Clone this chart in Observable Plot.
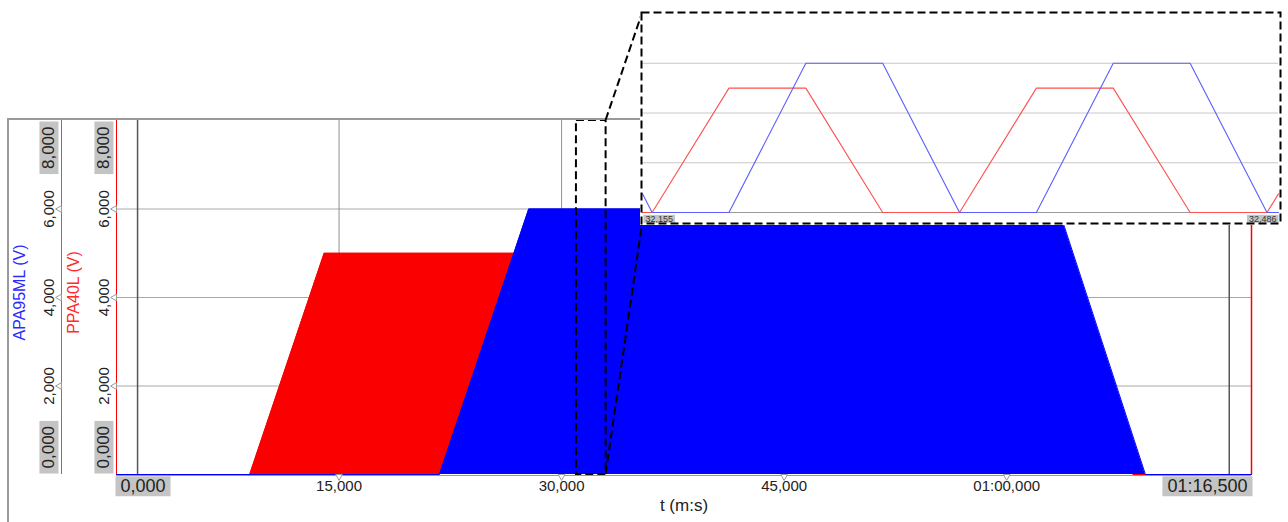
<!DOCTYPE html>
<html><head><meta charset="utf-8">
<script src="https://cdn.jsdelivr.net/npm/d3@7"></script>
<script src="https://cdn.jsdelivr.net/npm/@observablehq/plot@0.6"></script>
<style>
html,body{margin:0;padding:0;background:#fff;}
#chart{position:relative;width:1288px;height:522px;overflow:hidden;}
#chart svg{position:absolute;max-width:none;}
</style></head><body><div id="chart"></div>
<script>
// ---------- data ----------
const xRange = [0, 76.5];                       // seconds
const xRangeLabels = ["0,000", "01:16,500"];
const xTicks = [15, 30, 45, 60];
const xTickLabels = ["15,000", "30,000", "45,000", "01:00,000"];
const yTicks = [0, 2000, 4000, 6000, 8000];
const yTickLabels = ["0,000", "2,000", "4,000", "6,000", "8,000"];
const cursorT = [1.42, 75.0];

// envelope of PPA40L (red) and APA95ML (blue), volts vs seconds
const redT  = [0, 8.98, 14.0, 63.5, 68.5, 76.5];
const redV  = [0, 0, 5000, 5000, 0, 0];
const blueT = [0, 21.77, 27.79, 63.5, 69.35, 76.5];
const blueV = [0, 0, 6000, 6000, 0, 0];

// zoom window and inset detail
const zoomWindow = [31.0, 33.0];
const insetRange = [32.155, 32.486];
const insetRangeLabels = ["32,155", "32,486"];
const insetRedT  = [32.155, 32.160, 32.200, 32.240, 32.280, 32.320, 32.360, 32.400, 32.440, 32.480, 32.486];
const insetRedV  = [0, 0, 5000, 5000, 0, 0, 5000, 5000, 0, 0, 750];
const insetBlueT = [32.155, 32.160, 32.200, 32.240, 32.280, 32.320, 32.360, 32.400, 32.440, 32.480, 32.486];
const insetBlueV = [750, 0, 0, 6000, 6000, 0, 0, 6000, 6000, 0, 0];

const seriesNames = ["APA95ML (V)", "PPA40L (V)"];
const xTitle = "t (m:s)";

// ---------- tables ----------
const zip = (ts, vs) => ts.map((t, i) => ({t, v: vs[i]}));
const red = zip(redT, redV), blue = zip(blueT, blueV);
const insetRed = zip(insetRedT, insetRedV), insetBlue = zip(insetBlueT, insetBlueV);
const yRows = yTicks.map((v, i) => ({v, label: yTickLabels[i]}));
const yInner = yRows.filter(d => d.v > yTicks[0] && d.v < yTicks[yTicks.length - 1]);
const yLow = yRows.filter(d => d.v === yTicks[0]);
const yHigh = yRows.filter(d => d.v === yTicks[yTicks.length - 1]);
const xRows = xTicks.map((t, i) => ({t, label: xTickLabels[i]}));
const xRangeRows = xRange.map((t, i) => ({t, label: xRangeLabels[i]}));
const insetRangeRows = insetRange.map((t, i) => ({t, label: insetRangeLabels[i]}));
const boxedLabels = new Set([yLow[0].label, yHigh[0].label, ...xRangeLabels, ...insetRangeLabels]);

const FONT = "'Liberation Sans', Arial, sans-serif";
const RED = "#fb0000", BLUE = "#0000ff", TXT = "#222";
const axisOffsets = [-55, 0]; // APA95ML axis, PPA40L axis (relative to frame left)

function yLabelMarks(dxAxis) {
  const dx = dxAxis - 12.5;
  return [
    Plot.text(yInner, {y: "v", text: "label", frameAnchor: "left", dx, rotate: -90,
      textAnchor: "middle", lineAnchor: "middle", fontSize: 15, fill: TXT}),
    Plot.text(yLow, {y: "v", text: "label", frameAnchor: "left", dx, dy: -6, rotate: -90,
      textAnchor: "start", lineAnchor: "middle", fontSize: 17, fill: TXT}),
    Plot.text(yHigh, {y: "v", text: "label", frameAnchor: "left", dx, dy: 6, rotate: -90,
      textAnchor: "end", lineAnchor: "middle", fontSize: 17, fill: TXT}),
    Plot.dot(yInner, {y: "v", frameAnchor: "left", dx: dxAxis - 2, symbol: "triangle", rotate: -90,
      r: 2.5, fill: "white", stroke: "#999", strokeWidth: 1})
  ];
}

const main = Plot.plot({
  width: 1288, height: 522,
  marginLeft: 116, marginRight: 37, marginTop: 120, marginBottom: 48,
  x: {domain: xRange, axis: null},
  y: {domain: [yTicks[0], yTicks[yTicks.length - 1]], axis: null},
  style: {fontFamily: FONT, fontSize: "15px", color: TXT, background: "white", overflow: "visible"},
  marks: [
    Plot.ruleY(yInner, {y: "v", stroke: "#a8a8a8", strokeWidth: 1}),
    Plot.ruleX(xTicks, {stroke: "#909090", strokeWidth: 1}),
    Plot.ruleY([yTicks[0]], {stroke: "#999", strokeWidth: 1, dy: 1}),
    Plot.areaY(red, {x: "t", y: "v", fill: RED}),
    Plot.lineY(red, {x: "t", y: "v", stroke: RED, strokeWidth: 1}),
    Plot.areaY(blue, {x: "t", y: "v", fill: BLUE}),
    Plot.lineY(blue, {x: "t", y: "v", stroke: BLUE, strokeWidth: 1}),
    Plot.ruleX(cursorT, {stroke: "#555", strokeWidth: 1.5}),
    Plot.ruleX([xRange[0]], {stroke: "#777", strokeWidth: 1, dx: axisOffsets[0]}),
    Plot.ruleX([xRange[0]], {stroke: RED, strokeWidth: 1}),
    Plot.ruleX([xRange[1]], {stroke: RED, strokeWidth: 1.5}),
    ...yLabelMarks(axisOffsets[0]),
    ...yLabelMarks(axisOffsets[1]),
    Plot.text([seriesNames[0]], {frameAnchor: "left", dx: -96.5, dy: -5, rotate: -90,
      textAnchor: "middle", lineAnchor: "middle", fontSize: 16, fill: "#2a2aff"}),
    Plot.text([seriesNames[1]], {frameAnchor: "left", dx: -43, dy: -5, rotate: -90,
      textAnchor: "middle", lineAnchor: "middle", fontSize: 16, fill: "#ff2a2a"}),
    Plot.dot(xTicks, {x: d => d, frameAnchor: "bottom", dy: 2, symbol: "triangle", rotate: 180,
      r: 2.5, fill: "white", stroke: "#999", strokeWidth: 1}),
    Plot.text(xRows, {x: "t", text: "label", frameAnchor: "bottom", dy: 11.5, lineAnchor: "middle",
      textAnchor: "middle", fontSize: 15, fill: TXT}),
    Plot.text(xRangeRows.slice(0, 1), {x: "t", text: "label", frameAnchor: "bottom", dy: 12,
      lineAnchor: "middle", textAnchor: "start", dx: 4, fontSize: 18, fill: TXT}),
    Plot.text(xRangeRows.slice(1), {x: "t", text: "label", frameAnchor: "bottom", dy: 12,
      lineAnchor: "middle", textAnchor: "end", dx: -4, fontSize: 18, fill: TXT}),
    Plot.text([xTitle], {frameAnchor: "bottom", dy: 31, lineAnchor: "middle", textAnchor: "middle",
      fontSize: 17, fill: TXT}),
    Plot.rect([zoomWindow], {x1: d => d[0], x2: d => d[1], y1: yTicks[0], y2: yTicks[yTicks.length - 1],
      fill: "none", stroke: "black", strokeWidth: 2, strokeDasharray: "8,4"})
  ]
});

const chart = document.getElementById("chart");
chart.appendChild(main);
main.style.left = "0px"; main.style.top = "0px";

// grey boxes behind range labels, placed from each text's own bounding box
function boxify(svg, fill, px, py) {
  const nodes = Array.from(svg.querySelectorAll("text")).filter(n => boxedLabels.has(n.textContent.trim()));
  nodes.forEach(node => {
    const bb = node.getBBox();
    const r = document.createElementNS("http://www.w3.org/2000/svg", "rect");
    r.setAttribute("x", bb.x - px);
    r.setAttribute("y", bb.y - py);
    r.setAttribute("width", bb.width + 2 * px);
    r.setAttribute("height", bb.height + 2 * py);
    const tr = node.getAttribute("transform");
    if (tr) r.setAttribute("transform", tr);
    r.setAttribute("fill", fill);
    r.setAttribute("stroke", "none");
    node.parentNode.insertBefore(r, node);
  });
}
const ms = d3.select(main);
boxify(main, "#c4c4c4", 5, 0);

// outer frame lines
ms.append("line").attr("x1", 8).attr("x2", 8).attr("y1", 119).attr("y2", 522)
  .attr("stroke", "#999").attr("stroke-width", 2);
ms.append("line").attr("x1", 7).attr("x2", 1283).attr("y1", 119).attr("y2", 119)
  .attr("stroke", "#999").attr("stroke-width", 2);

// ---------- inset ----------
const INSET = {left: 640, top: 11, width: 643, height: 214};
const inset = Plot.plot({
  width: INSET.width, height: INSET.height,
  marginLeft: 2, marginRight: 5, marginTop: 2, marginBottom: 13,
  x: {domain: insetRange, axis: null},
  y: {domain: [yTicks[0], yTicks[yTicks.length - 1]], axis: null},
  style: {fontFamily: FONT, fontSize: "9px", color: "#333", background: "white", overflow: "visible"},
  marks: [
    Plot.ruleY(yInner, {y: "v", stroke: "#c8c8c8", strokeWidth: 1}),
    Plot.ruleY([yTicks[0]], {stroke: "#9a9a9a", strokeWidth: 1}),
    Plot.line(insetRed, {x: "t", y: "v", stroke: "#ff5050", strokeWidth: 1.1}),
    Plot.line(insetBlue, {x: "t", y: "v", stroke: "#5c5cff", strokeWidth: 1.1}),
    Plot.text(insetRangeRows.slice(0, 1), {x: "t", text: "label", frameAnchor: "bottom", dy: 6.5,
      lineAnchor: "middle", textAnchor: "start", dx: 3, fontSize: 9, fill: "#333"}),
    Plot.text(insetRangeRows.slice(1), {x: "t", text: "label", frameAnchor: "bottom", dy: 6.5,
      lineAnchor: "middle", textAnchor: "end", dx: -2, fontSize: 9, fill: "#333"})
  ]
});
chart.appendChild(inset);
inset.style.left = INSET.left + "px"; inset.style.top = INSET.top + "px";
boxify(inset, "#c4c4c4", 2, -1);
d3.select(inset).append("rect").attr("x", 1.5).attr("y", 1.5)
  .attr("width", INSET.width - 4).attr("height", INSET.height - 3)
  .attr("fill", "none").attr("stroke", "black").attr("stroke-width", 2).attr("stroke-dasharray", "8,4");

// connectors from zoom window to inset corners
const sx = main.scale("x"), sy = main.scale("y");
const zx = sx.apply(zoomWindow[1]);
const ix = INSET.left + 2, iyTop = INSET.top + 2, iyBot = INSET.top + INSET.height - 1;
[[sy.apply(yTicks[yTicks.length - 1]), iyTop], [sy.apply(yTicks[0]), iyBot]].forEach(([y0, y1]) => {
  ms.append("line").attr("x1", zx).attr("y1", y0).attr("x2", ix).attr("y2", y1)
    .attr("stroke", "black").attr("stroke-width", 2).attr("stroke-dasharray", "8,4");
});
</script></body></html>
